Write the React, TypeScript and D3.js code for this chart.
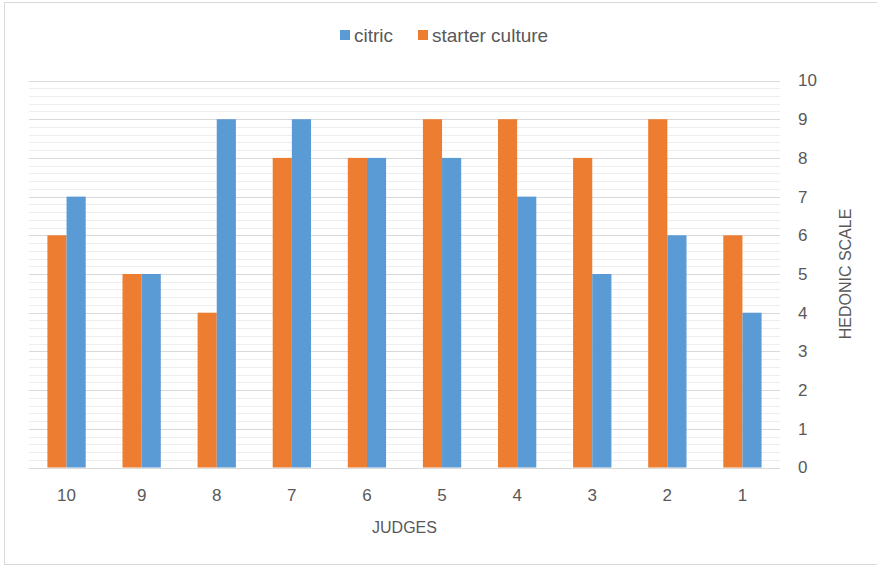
import React from "react";
import * as d3 from "d3";

// Judges listed from 10 down to 1
const judges: string[] = ["10", "9", "8", "7", "6", "5", "4", "3", "2", "1"];
const citric: number[] = [7, 5, 9, 9, 8, 8, 7, 5, 6, 4];
const starterCulture: number[] = [6, 5, 4, 8, 8, 9, 9, 8, 9, 6];
const yTicks: number[] = [0, 1, 2, 3, 4, 5, 6, 7, 8, 9, 10];

const W = 877;
const H = 567;
const plot = { left: 29, right: 780, top: 80.5, bottom: 467.5 };
const BLUE = "#5b9bd5";
const ORANGE = "#ed7d31";
const TEXT = "#595959";
const FONT = "'Liberation Sans', Arial, sans-serif";

export default function App() {
  const x = d3
    .scaleBand<string>()
    .domain(judges)
    .range([plot.left, plot.right])
    .paddingInner(0.49)
    .paddingOuter(0.245);
  const series = d3
    .scaleBand<string>()
    .domain(["starter", "citric"])
    .range([0, x.bandwidth()]);
  const y = d3.scaleLinear().domain([0, 10]).range([plot.bottom, plot.top]);

  // minor gridlines: five subdivisions per unit
  const minor = d3.range(0, 10.0001, 0.2).filter((v) => Math.abs(v - Math.round(v)) > 1e-6);

  return (
    <svg
      width={W}
      height={H}
      style={{ position: "absolute", left: 0, top: 0, background: "#fff" }}
      fontFamily={FONT}
    >
      <rect x={4.5} y={2.5} width={W + 10} height={562} fill="#fff" stroke="#d9d9d9" strokeWidth={1} />

      {/* gridlines */}
      {minor.map((v) => (
        <line
          key={"m" + v.toFixed(1)}
          x1={plot.left}
          x2={plot.right}
          y1={Math.round(y(v)) + 0.5}
          y2={Math.round(y(v)) + 0.5}
          stroke="#eeeeee"
          strokeWidth={1}
        />
      ))}
      {yTicks.map((t) => (
        <line
          key={"g" + t}
          x1={plot.left}
          x2={plot.right}
          y1={Math.round(y(t)) + 0.5}
          y2={Math.round(y(t)) + 0.5}
          stroke="#d9d9d9"
          strokeWidth={1.2}
        />
      ))}

      {/* bars */}
      {judges.map((j, i) => {
        const x0 = x(j)!;
        return (
          <g key={j}>
            <rect
              x={x0 + series("starter")!}
              y={y(starterCulture[i])}
              width={series.bandwidth()}
              height={y(0) - y(starterCulture[i])}
              fill={ORANGE}
            />
            <rect
              x={x0 + series("citric")!}
              y={y(citric[i])}
              width={series.bandwidth()}
              height={y(0) - y(citric[i])}
              fill={BLUE}
            />
          </g>
        );
      })}

      {/* right axis labels */}
      {yTicks.map((t) => (
        <text key={"yt" + t} x={798} y={y(t)} dy="0.35em" fontSize={17} fill={TEXT}>
          {t}
        </text>
      ))}
      <text
        transform={`translate(845, ${(plot.top + plot.bottom) / 2}) rotate(-90)`}
        textAnchor="middle"
        dy="0.35em"
        fontSize={16}
        fill={TEXT}
      >
        HEDONIC SCALE
      </text>

      {/* bottom axis labels */}
      {judges.map((j) => (
        <text
          key={"xt" + j}
          x={x(j)! + x.bandwidth() / 2}
          y={495}
          dy="0.35em"
          textAnchor="middle"
          fontSize={17}
          fill={TEXT}
        >
          {j}
        </text>
      ))}
      <text
        x={(plot.left + plot.right) / 2}
        y={527}
        dy="0.35em"
        textAnchor="middle"
        fontSize={16}
        fill={TEXT}
      >
        JUDGES
      </text>

      {/* legend */}
      <rect x={340} y={30} width={10} height={10} fill={BLUE} />
      <text x={354} y={35} dy="0.35em" fontSize={19} fill={TEXT}>
        citric
      </text>
      <rect x={418} y={30} width={10} height={10} fill={ORANGE} />
      <text x={432} y={35} dy="0.35em" fontSize={19} fill={TEXT}>
        starter culture
      </text>
    </svg>
  );
}
